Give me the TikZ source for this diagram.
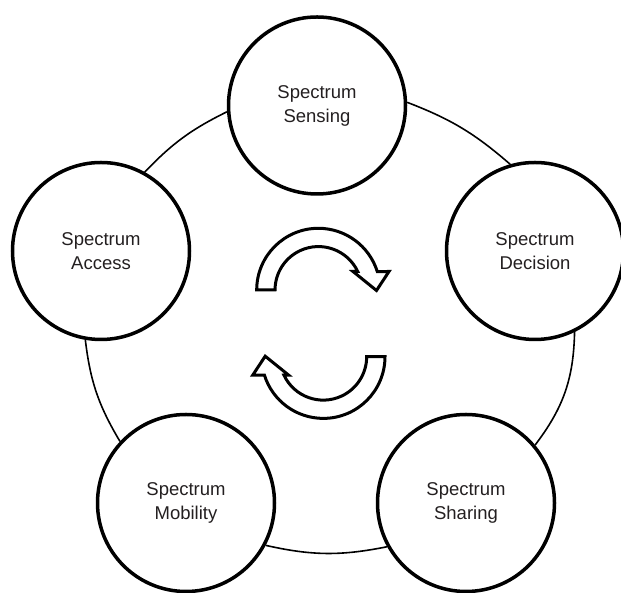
\documentclass[tikz,border=0pt]{standalone}
\usepackage{fontspec}
\setmainfont{Liberation Sans}
\definecolor{labelgray}{RGB}{35,31,32}
\begin{document}
\begin{tikzpicture}[x=1pt,y=1pt,
  stage/.style={circle, draw=black, line width=3.5pt, minimum size=177pt, inner sep=0pt,
    align=center, text=labelgray, font=\fontsize{18.5}{24}\selectfont},
  link/.style={line width=1.6pt, black},
  cyclearrow/.style={draw=black, fill=white, line width=3pt, line join=miter}]
\useasboundingbox (0,0) rectangle (621,593);

% the five stages of the cycle
\node[stage] (sensing)  at (317,487.5) {Spectrum\\Sensing};
\node[stage] (access)   at (101,342)   {Spectrum\\Access};
\node[stage] (decision) at (535,342)   {Spectrum\\Decision};
\node[stage] (mobility) at (186,90)    {Spectrum\\Mobility};
\node[stage] (sharing)  at (466,90)    {Spectrum\\Sharing};

% ring linking neighbouring stages
\draw[link] (sensing.184)  to[bend right=10] (access.61);
\draw[link] (access.260)   to[bend right=12] (mobility.137);
\draw[link] (mobility.332) to[bend right=12] (sharing.209);
\draw[link] (sharing.40)   to[bend right=18] (decision.-64);
\draw[link] (decision.106) to[bend right=10] (sensing.2);

% curved block arrows in the middle
\path[cyclearrow] (256.7,303) arc[start angle=180, end angle=17.4, radius=61.7]
  -- (389,321.5) -- (376.5,302.5) -- (353,321.5) -- (357.7,321.5)
  arc[start angle=25.2, end angle=180, radius=43.4] -- cycle;
\begin{scope}[rotate around={180:(320.85,269.65)}]
\path[cyclearrow] (256.7,303) arc[start angle=180, end angle=17.4, radius=61.7]
  -- (389,321.5) -- (376.5,302.5) -- (353,321.5) -- (357.7,321.5)
  arc[start angle=25.2, end angle=180, radius=43.4] -- cycle;
\end{scope}
\end{tikzpicture}
\end{document}
